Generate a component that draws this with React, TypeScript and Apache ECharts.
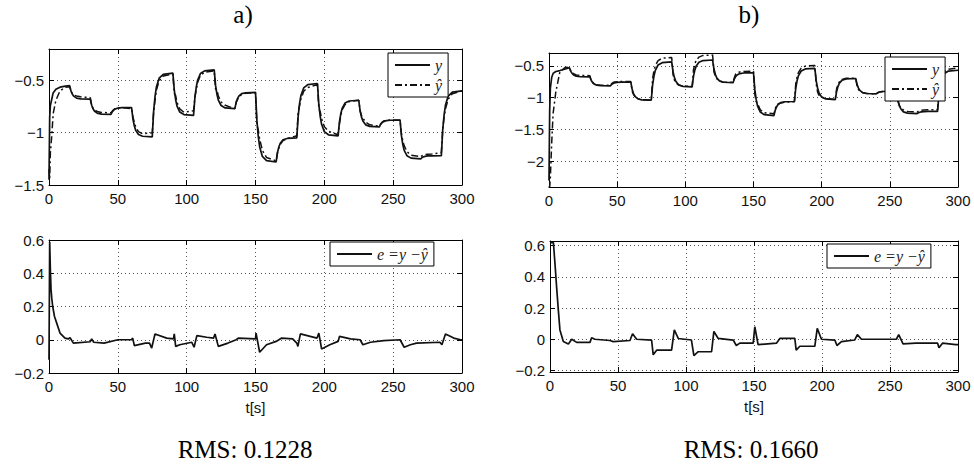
import React, { useEffect, useRef } from "react";
import * as echarts from "echarts";

// ---------- data ----------
const tGrid = [
  0, 0.5, 1, 2, 3, 5, 8, 12,
  15, 16, 17, 18, 20, 23,
  30, 31, 32, 33, 35, 38,
  45, 46, 47, 48, 50, 53,
  60, 61, 62, 63, 65, 68,
  75, 76, 77, 78, 80, 83,
  90, 91, 92, 93, 95, 98,
  105, 106, 107, 108, 110, 113,
  120, 121, 122, 123, 125, 128,
  135, 136, 137, 138, 140, 143,
  150, 151, 152, 153, 155, 158,
  165, 166, 167, 168, 170, 173,
  180, 181, 182, 183, 185, 188,
  195, 196, 197, 198, 200, 203,
  210, 211, 212, 213, 215, 218,
  225, 226, 227, 228, 230, 233,
  240, 241, 242, 243, 245, 248,
  255, 256, 257, 258, 260, 263,
  270, 271, 272, 273, 275, 278,
  285, 286, 287, 288, 290, 293,
  300,
];

const yA = [
  -1.45, -0.85, -0.74, -0.68, -0.62, -0.585, -0.565, -0.555,
  -0.55, -0.602, -0.632, -0.651, -0.67, -0.677,
  -0.68, -0.738, -0.771, -0.793, -0.813, -0.822,
  -0.825, -0.799, -0.784, -0.774, -0.765, -0.761,
  -0.76, -0.872, -0.936, -0.978, -1.018, -1.034,
  -1.04, -0.796, -0.656, -0.564, -0.479, -0.442,
  -0.43, -0.592, -0.685, -0.746, -0.803, -0.827,
  -0.835, -0.661, -0.561, -0.496, -0.435, -0.409,
  -0.4, -0.548, -0.633, -0.689, -0.74, -0.763,
  -0.77, -0.708, -0.672, -0.649, -0.627, -0.618,
  -0.615, -0.881, -1.034, -1.134, -1.227, -1.267,
  -1.28, -1.188, -1.135, -1.101, -1.068, -1.055,
  -1.05, -0.842, -0.722, -0.644, -0.572, -0.54,
  -0.53, -0.73, -0.845, -0.92, -0.99, -1.02,
  -1.03, -0.894, -0.816, -0.765, -0.717, -0.697,
  -0.69, -0.792, -0.851, -0.889, -0.925, -0.94,
  -0.945, -0.919, -0.904, -0.894, -0.885, -0.881,
  -0.88, -1.028, -1.113, -1.169, -1.22, -1.243,
  -1.25, -1.238, -1.231, -1.227, -1.222, -1.221,
  -1.22, -0.972, -0.829, -0.736, -0.65, -0.612,
  -0.6,
];

const yHatA = [
  -1.35, -1.44, -1.19, -1.03, -0.82, -0.69, -0.6, -0.565,
  -0.56, -0.607, -0.627, -0.641, -0.65, -0.657,
  -0.665, -0.743, -0.766, -0.778, -0.798, -0.807,
  -0.81, -0.794, -0.779, -0.771, -0.765, -0.761,
  -0.77, -0.852, -0.901, -0.945, -0.99, -1.01,
  -1.0, -0.8, -0.691, -0.594, -0.504, -0.459,
  -0.44, -0.627, -0.645, -0.711, -0.773, -0.805,
  -0.79, -0.66, -0.586, -0.518, -0.453, -0.421,
  -0.41, -0.583, -0.594, -0.649, -0.707, -0.738,
  -0.77, -0.708, -0.682, -0.658, -0.634, -0.623,
  -0.62, -0.921, -0.974, -1.059, -1.17, -1.237,
  -1.27, -1.188, -1.145, -1.111, -1.076, -1.057,
  -1.03, -0.802, -0.742, -0.679, -0.604, -0.568,
  -0.54, -0.77, -0.8, -0.865, -0.942, -0.987,
  -1.02, -0.914, -0.834, -0.781, -0.731, -0.703,
  -0.69, -0.792, -0.835, -0.859, -0.9, -0.925,
  -0.937, -0.914, -0.899, -0.889, -0.882, -0.879,
  -0.88, -1.01, -1.078, -1.124, -1.18, -1.215,
  -1.23, -1.22, -1.213, -1.21, -1.205, -1.204,
  -1.19, -0.97, -0.849, -0.771, -0.68, -0.627,
  -0.6,
];

const yB = [
  -2.3, -1.2, -0.85, -0.68, -0.62, -0.59, -0.575, -0.55,
  -0.53, -0.588, -0.621, -0.643, -0.663, -0.672,
  -0.675, -0.731, -0.763, -0.784, -0.804, -0.812,
  -0.815, -0.791, -0.777, -0.768, -0.76, -0.756,
  -0.755, -0.869, -0.935, -0.977, -1.017, -1.034,
  -1.04, -0.8, -0.662, -0.572, -0.488, -0.452,
  -0.44, -0.596, -0.686, -0.744, -0.799, -0.822,
  -0.83, -0.662, -0.565, -0.502, -0.444, -0.418,
  -0.41, -0.552, -0.634, -0.687, -0.737, -0.758,
  -0.765, -0.703, -0.667, -0.644, -0.622, -0.613,
  -0.61, -0.878, -1.032, -1.133, -1.226, -1.267,
  -1.28, -1.192, -1.141, -1.108, -1.078, -1.064,
  -1.06, -0.852, -0.732, -0.654, -0.582, -0.55,
  -0.54, -0.736, -0.849, -0.922, -0.991, -1.02,
  -1.03, -0.898, -0.822, -0.773, -0.726, -0.707,
  -0.7, -0.796, -0.851, -0.887, -0.921, -0.935,
  -0.94, -0.924, -0.915, -0.909, -0.903, -0.901,
  -0.9, -1.04, -1.121, -1.173, -1.222, -1.243,
  -1.25, -1.236, -1.228, -1.223, -1.218, -1.216,
  -1.215, -0.957, -0.809, -0.712, -0.622, -0.583,
  -0.57,
];

const yHatB = [
  -2.38, -2.4, -2.25, -1.7, -1.25, -0.91, -0.595, -0.525,
  -0.53, -0.583, -0.611, -0.623, -0.643, -0.652,
  -0.655, -0.741, -0.758, -0.784, -0.8, -0.805,
  -0.805, -0.778, -0.762, -0.755, -0.75, -0.748,
  -0.747, -0.899, -0.95, -0.98, -1.017, -1.033,
  -1.035, -0.7, -0.577, -0.5, -0.418, -0.382,
  -0.37, -0.641, -0.726, -0.764, -0.799, -0.819,
  -0.825, -0.562, -0.47, -0.412, -0.364, -0.338,
  -0.33, -0.597, -0.664, -0.702, -0.74, -0.758,
  -0.76, -0.683, -0.627, -0.609, -0.597, -0.588,
  -0.585, -0.948, -1.062, -1.098, -1.192, -1.235,
  -1.253, -1.166, -1.121, -1.098, -1.083, -1.069,
  -1.065, -0.782, -0.672, -0.604, -0.537, -0.505,
  -0.495, -0.786, -0.909, -0.962, -0.991, -1.017,
  -1.024, -0.858, -0.792, -0.753, -0.713, -0.697,
  -0.695, -0.826, -0.871, -0.897, -0.921, -0.935,
  -0.94, -0.924, -0.915, -0.909, -0.903, -0.901,
  -0.9, -1.065, -1.131, -1.163, -1.192, -1.215,
  -1.225, -1.211, -1.203, -1.198, -1.193, -1.191,
  -1.19, -0.902, -0.769, -0.682, -0.594, -0.553,
  -0.535,
];

const tErrA = [
  0, 0.5, 1, 1.5, 2, 2.7, 4, 5.6, 8, 11.6, 14, 15.3, 17.7, 30, 31, 32.5, 40, 50, 60, 60.8,
  62, 70, 73, 74.6, 77, 85.5, 90.4, 91, 92, 95, 103.7, 105.4, 107.4, 114.6, 119.5, 120.6,
  123, 130, 136, 137.5, 150, 150.4, 153, 158, 165, 169, 177, 180, 180.8, 182.6, 194.7, 196,
  198, 204, 210, 211, 219, 226, 228, 233.5, 243, 255, 258, 262.5, 267, 284, 285.4, 288, 294,
  299, 300,
];
const errA = [
  -0.12, 0.59, 0.42, 0.3, 0.25, 0.2, 0.14, 0.1, 0.04, 0.01, 0.005, 0.012, -0.02, -0.012, 0.005,
  -0.015, -0.02, 0, 0, 0.01, -0.035, -0.02, -0.02, -0.05, 0.035, 0.01, 0.005, 0.035, -0.04,
  -0.03, -0.015, -0.045, 0.025, 0.015, 0.01, 0.035, -0.04, -0.02, 0, 0.01, 0.005, 0.04, -0.075,
  -0.03, -0.01, 0.01, 0.005, -0.02, -0.04, 0.035, 0.01, 0.04, -0.055, -0.03, -0.01, 0.02,
  0.005, 0, -0.03, -0.015, -0.005, 0, -0.045, -0.03, -0.02, -0.015, -0.03, 0.035, 0.01, 0, 0,
];

const tErrB = [
  0, 2.5, 3.7, 4.9, 6.1, 7.3, 9.8, 13.5, 16, 19.6, 29.4, 30.6, 33, 44, 46.5, 58.8, 60.7, 63.7,
  74.7, 75.9, 78.4, 89.4, 91.4, 94.3, 104, 105.8, 109, 118.8, 120.5, 123.7, 134.7, 137, 139.6,
  149.4, 150.6, 153, 166.5, 169, 180, 181, 183.7, 194.7, 196.5, 199.6, 209.5, 211, 214.3, 224,
  226, 229, 254.7, 256.4, 259.6, 269, 285, 286, 288.6, 298.4, 300,
];
const errB = [
  0.62, 0.62, 0.48, 0.33, 0.19, 0.06, -0.015, -0.03, 0, -0.02, -0.02, 0.01, 0, -0.008, -0.015,
  -0.008, 0.035, 0, -0.005, -0.1, -0.07, -0.07, 0.06, 0.005, -0.005, -0.105, -0.08, -0.08, 0.05,
  0.005, -0.005, -0.04, -0.025, -0.025, 0.08, -0.035, -0.025, 0.005, 0.005, -0.07, -0.045,
  -0.045, 0.07, 0, -0.006, -0.04, -0.015, -0.005, 0.03, 0, 0, 0.03, -0.03, -0.025, -0.025,
  -0.055, -0.025, -0.035, -0.035,
];

const xTicks = { min: 0, max: 300, interval: 50 };
const panelTitles = ["a)", "b)"];
const rmsTexts = ["RMS: 0.1228", "RMS: 0.1660"];
const legendY = ["y", "\u0177"];
const legendE = "e =y \u2212\u0177";

// ---------- helpers ----------
const fmt = (v: number) => {
  const r = Math.round(v * 100) / 100;
  return r < 0 ? "\u2212" + String(-r) : String(r);
};
const zip = (t: number[], v: number[]) => t.map((x, i) => [x, v[i]]);

const labelFont = {
  fontFamily: "'Liberation Sans', Arial, sans-serif",
  fontSize: 15,
  color: "#111",
};
const lineCol = "#000";
const gridDot = { type: [1, 3] as any, color: "#555", width: 1 };

const grids = [
  { left: 49, top: 49, width: 413, height: 136 },
  { left: 549, top: 53, width: 409, height: 134 },
  { left: 49, top: 240, width: 413, height: 133 },
  { left: 550, top: 241, width: 408, height: 131 },
];

const yCfg: any[] = [
  { min: -1.5, max: -0.2, interval: 0.5, showMin: true, showMax: false },
  { min: -2.4, max: -0.3, splitNumber: 4, showMin: false, showMax: false },
  { min: -0.2, max: 0.6, interval: 0.2, showMin: true, showMax: true },
  { min: -0.21, max: 0.63, splitNumber: 4, showMin: false, showMax: false },
];

export default function App() {
  const ref = useRef<HTMLDivElement>(null);
  useEffect(() => {
    if (!ref.current) return;
    const chart = echarts.init(ref.current, undefined, { renderer: "svg" });

    const xAxis: any[] = [];
    const yAxis: any[] = [];
    grids.forEach((_, g) => {
      xAxis.push({
        type: "value",
        gridIndex: g,
        ...xTicks,
        position: "bottom",
        axisLine: { show: true, onZero: false, lineStyle: { color: lineCol, width: 1 } },
        axisTick: { show: true, inside: true, length: 5, lineStyle: { color: lineCol } },
        axisLabel: { ...labelFont, margin: 6, formatter: fmt },
        splitLine: { show: true, lineStyle: gridDot },
        name: g >= 2 ? "t[s]" : "",
        nameLocation: "middle",
        nameGap: 27,
        nameTextStyle: labelFont,
      });
      xAxis.push({
        type: "value",
        gridIndex: g,
        ...xTicks,
        position: "top",
        axisLine: { show: true, onZero: false, lineStyle: { color: lineCol, width: 1 } },
        axisTick: { show: true, inside: true, length: 5, lineStyle: { color: lineCol } },
        axisLabel: { show: false },
        splitLine: { show: false },
      });
      const c = yCfg[g];
      const yBase: any = { type: "value", gridIndex: g, min: c.min, max: c.max };
      if (c.interval) yBase.interval = c.interval;
      if (c.splitNumber) yBase.splitNumber = c.splitNumber;
      yAxis.push({
        ...yBase,
        position: "left",
        axisLine: { show: true, onZero: false, lineStyle: { color: lineCol, width: 1 } },
        axisTick: { show: true, inside: true, length: 5, lineStyle: { color: lineCol } },
        axisLabel: {
          ...labelFont,
          margin: 5,
          formatter: fmt,
          showMinLabel: c.showMin,
          showMaxLabel: c.showMax,
        },
        splitLine: { show: true, lineStyle: gridDot },
      });
      yAxis.push({
        ...yBase,
        position: "right",
        axisLine: { show: true, onZero: false, lineStyle: { color: lineCol, width: 1 } },
        axisTick: { show: true, inside: true, length: 5, lineStyle: { color: lineCol } },
        axisLabel: { show: false },
        splitLine: { show: false },
      });
    });

    const solid = (name: string, g: number, data: any[]) => ({
      type: "line",
      name,
      xAxisIndex: 2 * g,
      yAxisIndex: 2 * g,
      data,
      symbol: "none",
      showSymbol: false,
      itemStyle: { color: "#111" },
      lineStyle: { color: "#111", width: 1.7, type: "solid" },
      z: 3,
    });
    const dashdot = (name: string, g: number, data: any[]) => ({
      type: "line",
      name,
      xAxisIndex: 2 * g,
      yAxisIndex: 2 * g,
      data,
      symbol: "none",
      showSymbol: false,
      itemStyle: { color: "#111" },
      lineStyle: { color: "#111", width: 1.5, type: [7, 3, 2, 3] },
      z: 2,
    });

    const series = [
      solid(legendY[0], 0, zip(tGrid, yA)),
      dashdot(legendY[1], 0, zip(tGrid, yHatA)),
      solid(legendY[0], 1, zip(tGrid, yB)),
      dashdot(legendY[1], 1, zip(tGrid, yHatB)),
      solid(legendE, 2, zip(tErrA, errA)),
      solid(legendE, 3, zip(tErrB, errB)),
    ];

    const legBase = {
      orient: "vertical",
      itemWidth: 35,
      itemHeight: 14,
      itemGap: 4,
      padding: [4, 6, 4, 6],
      borderColor: "#000",
      borderWidth: 1,
      backgroundColor: "#fff",
      selectedMode: false,
      itemStyle: { opacity: 0, borderWidth: 0 },
      textStyle: {
        fontFamily: "'Liberation Serif', 'DejaVu Serif', serif",
        fontStyle: "italic",
        fontSize: 16,
        color: "#222",
      },
    };
    const legend = [
      { ...legBase, left: 388, top: 53, data: legendY },
      { ...legBase, left: 885, top: 57, data: legendY },
      { ...legBase, left: 330, top: 242, data: [legendE] },
      { ...legBase, left: 827, top: 244, data: [legendE] },
    ];

    const serif = "'Liberation Serif', 'DejaVu Serif', serif";
    const graphic = [
      { type: "text", x: 243, y: 14, style: { text: panelTitles[0], fill: "#000", font: `25px ${serif}`, align: "center", verticalAlign: "middle" } },
      { type: "text", x: 749, y: 14, style: { text: panelTitles[1], fill: "#000", font: `25px ${serif}`, align: "center", verticalAlign: "middle" } },
      { type: "text", x: 245, y: 449, style: { text: rmsTexts[0], fill: "#000", font: `25px ${serif}`, align: "center", verticalAlign: "middle" } },
      { type: "text", x: 751, y: 449, style: { text: rmsTexts[1], fill: "#000", font: `25px ${serif}`, align: "center", verticalAlign: "middle" } },
    ];

    chart.setOption({
      animation: false,
      backgroundColor: "#fff",
      grid: grids.map((g) => ({ ...g, containLabel: false, show: false })),
      xAxis,
      yAxis,
      series,
      legend,
      graphic,
    });
    return () => chart.dispose();
  }, []);

  return (
    <div
      ref={ref}
      style={{ position: "absolute", left: 0, top: 0, width: 974, height: 466 }}
    />
  );
}
